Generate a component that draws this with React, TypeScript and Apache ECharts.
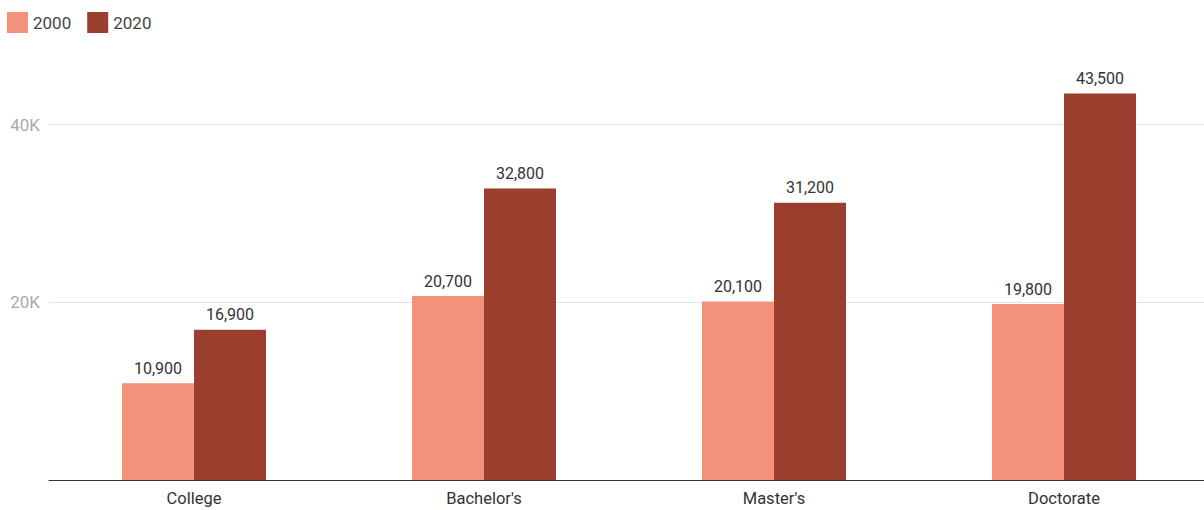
import React, { useEffect, useRef } from "react";
import * as echarts from "echarts";

const categories = ["College", "Bachelor's", "Master's", "Doctorate"];
const values2000 = [10900, 20700, 20100, 19800];
const values2020 = [16900, 32800, 31200, 43500];
const seriesNames = ["2000", "2020"];

export default function App() {
  const ref = useRef<HTMLDivElement>(null);
  useEffect(() => {
    if (!ref.current) return;
    const chart = echarts.init(ref.current, undefined, { renderer: "svg" });
    const font = "Roboto, 'Noto Sans', sans-serif";
    const label = {
      show: true,
      position: "top" as const,
      distance: 7,
      color: "#333",
      fontSize: 16,
      fontFamily: font,
      formatter: (p: any) => Number(p.value).toLocaleString("en-US"),
    };
    chart.setOption({
      animation: false,
      textStyle: { fontFamily: font },
      legend: {
        left: 7,
        top: 12,
        padding: 0,
        itemWidth: 21,
        itemHeight: 21,
        itemGap: 16,
        icon: "rect",
        textStyle: { fontSize: 17, color: "#444", fontFamily: font },
        data: seriesNames,
      },
      grid: { left: 49, width: 1160, top: 53.5, bottom: 30, containLabel: false },
      xAxis: {
        type: "category",
        data: categories,
        axisLine: { lineStyle: { color: "#333", width: 1 } },
        axisTick: { show: false },
        axisLabel: { color: "#333", fontSize: 16.5, margin: 10, fontFamily: font },
      },
      yAxis: {
        type: "value",
        min: 0,
        max: 48000,
        interval: 20000,
        axisLine: { show: false },
        axisTick: { show: false },
        axisLabel: {
          color: "#aaaaaa",
          fontSize: 17,
          margin: 9,
          fontFamily: font,
          showMinLabel: false,
          showMaxLabel: false,
          formatter: (v: number) => (v === 0 ? "" : v / 1000 + "K"),
        },
        splitLine: {
          show: true,
          showMinLine: false,
          showMaxLine: false,
          lineStyle: { color: "#e3e3e3", width: 1 },
        },
      },
      series: [
        {
          name: seriesNames[0],
          type: "bar",
          data: values2000,
          barWidth: 72,
          barGap: "0%",
          itemStyle: { color: "#F4917A" },
          label,
        },
        {
          name: seriesNames[1],
          type: "bar",
          data: values2020,
          barWidth: 72,
          barGap: "0%",
          itemStyle: { color: "#9A3F2E" },
          label,
        },
      ],
    });
    return () => chart.dispose();
  }, []);
  return (
    <div
      style={{ position: "fixed", left: 0, top: 0, width: 1204, height: 510, overflow: "hidden", background: "#fff" }}
    >
      <div ref={ref} style={{ width: 1212, height: 510 }} />
    </div>
  );
}
